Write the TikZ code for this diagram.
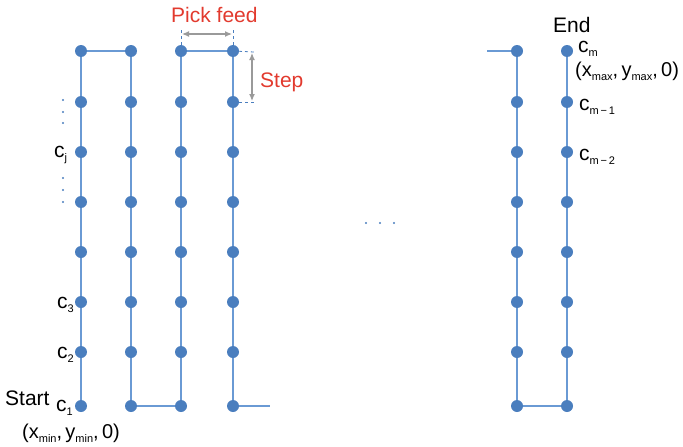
\documentclass[tikz,border=0pt]{standalone}
\usepackage{fontspec}
\setmainfont{Liberation Sans}
\usetikzlibrary{arrows.meta,backgrounds}
\definecolor{dotblue}{HTML}{4A7EBE}
\definecolor{lineblue}{HTML}{6A9AD4}
\definecolor{dimgray}{HTML}{9A9A9A}
\definecolor{dimred}{HTML}{E23A2E}
\newcommand{\sub}[1]{\raisebox{-0.45ex}{\fontsize{11}{12}\selectfont #1}}
\begin{document}
\begin{tikzpicture}[x=1pt, y=-1pt,
        every node/.style={font=\fontsize{21}{25}\selectfont},
        dot/.style={circle, fill=dotblue, inner sep=0pt, minimum size=12pt},
        smalldot/.style={circle, fill=dotblue, inner sep=0pt, minimum size=2.4pt},
        path/.style={draw=lineblue, line width=1.6pt},
        guide/.style={draw=dotblue, dashed, line width=0.8pt},
        dimarrow/.style={{Latex[length=7pt,width=6pt]}-{Latex[length=7pt,width=6pt]}, draw=dimgray, line width=1.2pt},
        label/.style={anchor=base west, inner sep=0pt, text=black},
        tuple/.style={label, font=\fontsize{20}{24}\selectfont},
        dimlabel/.style={anchor=base west, inner sep=0pt, text=dimred}
      ]
      \useasboundingbox (0,0) rectangle (683,447);
      % grid of points
      \foreach \col/\x in {1/81, 2/131, 3/181, 4/233, 5/517, 6/567}
        \foreach \row/\y in {1/51, 2/102, 3/152, 4/202, 5/252, 6/302, 7/352, 8/406}
          \node[dot] (d-\col-\row) at (\x,\y) {};
      \coordinate (tail) at (270,406);
      \coordinate (head) at (487,51);
      % zig-zag tool path
      \begin{scope}[on background layer]
        \draw[path] (d-1-8.center) -- (d-1-1.center) -- (d-2-1.center)
          -- (d-2-8.center) -- (d-3-8.center) -- (d-3-1.center)
          -- (d-4-1.center) -- (d-4-8.center) -- (tail);
        \draw[path] (head) -- (d-5-1.center) -- (d-5-8.center)
          -- (d-6-8.center) -- (d-6-1.center);
      \end{scope}
      % pick feed
      \coordinate (pf-a) at (181,30);
      \coordinate (pf-b) at (233,30);
      \draw[guide] (d-3-1.center) -- (pf-a);
      \draw[guide] (d-4-1.center) -- (pf-b);
      \coordinate (pf-l) at (182,34);
      \coordinate (pf-r) at (232,34);
      \draw[dimarrow] (pf-l) -- (pf-r);
      \node[dimlabel] (pickfeed) at (171,23) {Pick feed};
      % step
      \coordinate (st-a) at (254,52);
      \coordinate (st-b) at (254,102);
      \draw[guide] (d-4-1.center) -- (st-a);
      \draw[guide] (d-4-2.center) -- (st-b);
      \coordinate (st-t) at (252,53);
      \coordinate (st-d) at (252,101);
      \draw[dimarrow] (st-t) -- (st-d);
      \node[dimlabel] (step) at (260,87) {Step};
      % ellipses
      \foreach \i/\y in {1/100, 2/112, 3/123, 4/178, 5/190, 6/202}
        \node[smalldot] (v-\i) at (63,\y) {};
      \foreach \i/\x in {1/366, 2/380, 3/394}
        \node[smalldot] (h-\i) at (\x,223) {};
      % point labels
      \node[label] (cj) at (54,157) {c\sub{j}};
      \node[label] (c3) at (57,308) {c\sub{3}};
      \node[label] (c2) at (57,358) {c\sub{2}};
      \node[label] (c1) at (56,411) {c\sub{1}};
      \node[label] (start) at (5,405) {Start};
      \node[tuple] (cmin) at (22,438) {(x\sub{min},\,y\sub{min},\,0)};
      \node[label] (end) at (553,32) {End};
      \node[label] (cm) at (578,52) {c\sub{m}};
      \node[tuple] (cmax) at (575,76) {(x\sub{max},\,y\sub{max},\,0)};
      \node[label] (cm1) at (579,110) {c\sub{m\,−\,1}};
      \node[label] (cm2) at (579,160) {c\sub{m\,−\,2}};
    \end{tikzpicture}
\end{document}
